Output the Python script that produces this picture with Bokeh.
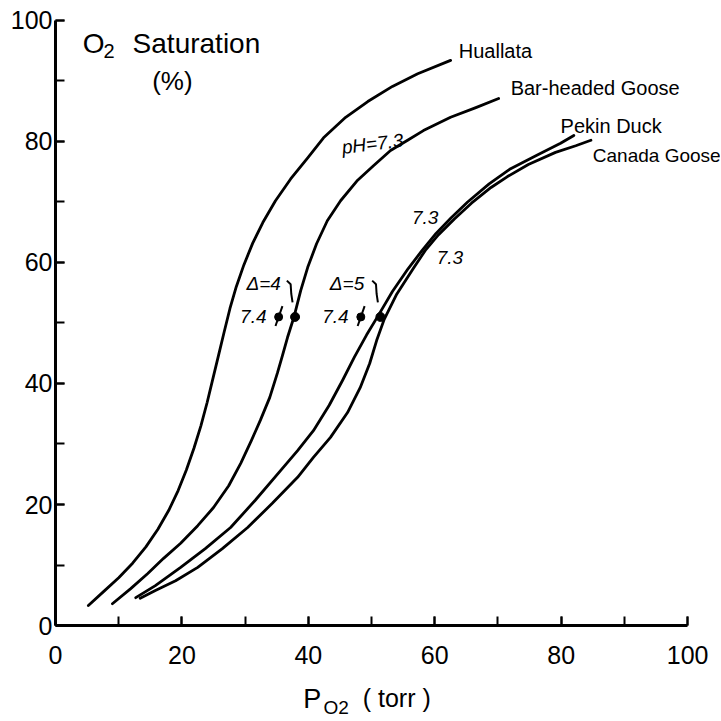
from bokeh.plotting import figure
from bokeh.models import Label, Range1d, SingleIntervalTicker
from bokeh.embed import file_html
from bokeh.resources import INLINE

# ---- data (P_O2 in torr, saturation in %) ----
huallata_x = [5.2, 7.6, 10.0, 12.2, 14.3, 16.2, 17.9, 19.4, 20.7, 21.9, 23.0, 24.0, 24.9, 25.8,
              26.7, 27.6, 28.6, 29.8, 31.2, 32.8, 34.8, 37.2, 39.9, 42.4, 45.9, 49.4, 53.3, 57.3, 62.5]
huallata_y = [3.3, 5.6, 7.9, 10.3, 13.0, 15.9, 19.0, 22.3, 25.7, 29.3, 33.0, 36.9, 40.8, 44.7,
              48.6, 52.4, 56.0, 59.6, 63.2, 66.6, 70.2, 73.8, 77.3, 80.6, 84.0, 86.6, 89.1, 91.2, 93.4]

barhead_x = [9.0, 11.9, 14.6, 17.1, 19.8, 22.5, 25.0, 27.4, 29.3, 31.0, 32.4, 33.9, 35.1, 35.9,
             36.7, 37.7, 38.8, 39.9, 41.3, 43.0, 45.1, 47.8, 50.3, 53.0, 55.7, 58.2, 62.5, 66.5, 70.1]
barhead_y = [3.6, 6.1, 8.6, 11.1, 13.6, 16.5, 19.5, 23.1, 26.8, 30.6, 33.9, 37.7, 41.7, 44.6,
             47.6, 50.9, 55.4, 59.2, 63.1, 66.9, 70.2, 73.6, 76.0, 78.5, 80.2, 81.8, 84.0, 85.6, 87.1]

pekin_x = [12.7, 15.8, 19.8, 23.7, 27.7, 31.6, 35.6, 38.3, 40.8, 43.3, 45.4, 47.3, 49.2, 51.1,
           53.3, 55.8, 58.0, 60.2, 62.6, 65.2, 68.6, 72.0, 76.3, 79.9, 82.0]
pekin_y = [4.6, 6.6, 9.6, 12.7, 16.2, 20.7, 25.6, 28.9, 32.2, 36.4, 40.5, 44.4, 48.0, 51.3,
           55.2, 59.0, 62.0, 64.8, 67.4, 70.0, 73.0, 75.5, 77.8, 79.7, 81.0]

canada_x = [13.4, 15.8, 19.0, 22.5, 26.4, 30.4, 34.3, 38.3, 40.8, 43.5, 46.2, 48.2, 49.7, 50.8,
            52.0, 54.0, 56.6, 58.5, 60.6, 63.1, 65.8, 68.9, 71.5, 74.8, 79.1, 82.3, 84.7]
canada_y = [4.5, 5.8, 7.4, 9.6, 12.7, 16.2, 20.2, 24.5, 27.8, 31.1, 35.2, 39.3, 43.3, 47.1,
            50.6, 54.8, 59.0, 62.0, 64.6, 67.2, 69.8, 72.4, 74.2, 76.2, 78.2, 79.3, 80.2]

# P50 points: pH 7.4 and pH 7.3
p50_74_x = [35.3, 48.3]
p50_74_y = [51, 51]
p50_73_x = [37.9, 51.4]
p50_73_y = [51, 51]
delta_labels = ["\u0394=4", "\u0394=5"]

species = ["Huallata", "Bar-headed Goose", "Pekin Duck", "Canada Goose"]

x_ticks_step = 20
y_ticks_step = 20

FONT = "Liberation Sans"

p = figure(frame_width=720, frame_height=720,
           x_range=Range1d(-8.7, 105.2), y_range=Range1d(-15.7, 103.3),
           output_backend="svg", toolbar_location=None,
           min_border_left=0, min_border_right=0,
           min_border_top=0, min_border_bottom=0)
p.outline_line_color = None
p.xgrid.visible = False
p.ygrid.visible = False
p.background_fill_color = "white"
p.border_fill_color = "white"

for ax, step in ((p.xaxis, x_ticks_step), (p.yaxis, y_ticks_step)):
    ax.ticker = SingleIntervalTicker(interval=step, num_minor_ticks=2)
    ax.bounds = (0, 100)
    ax.fixed_location = 0
    ax.axis_line_width = 3
    ax.axis_line_color = "black"
    ax.major_tick_in = 9
    ax.major_tick_out = 0
    ax.minor_tick_in = 9
    ax.minor_tick_out = 0
    ax.major_tick_line_width = 2
    ax.minor_tick_line_width = 2
    ax.major_tick_line_color = "black"
    ax.minor_tick_line_color = "black"
    ax.major_label_text_font = FONT
    ax.major_label_text_font_size = "25px"
    ax.major_label_text_color = "black"
p.xaxis.major_label_standoff = 20
p.yaxis.major_label_standoff = 3

# curves
for xs, ys in ((huallata_x, huallata_y), (barhead_x, barhead_y),
               (pekin_x, pekin_y), (canada_x, canada_y)):
    p.line(xs, ys, line_color="black", line_width=2.8,
           line_join="round", line_cap="round")

# P50 markers
p.scatter(p50_73_x, p50_73_y, size=9, color="black")
p.scatter(p50_74_x, p50_74_y, size=8, color="black")
p.segment(x0=[x - 0.5 for x in p50_74_x], y0=[y - 1.5 for y in p50_74_y],
          x1=[x + 0.6 for x in p50_74_x], y1=[y + 1.8 for y in p50_74_y],
          line_color="black", line_width=2)

# small braces from delta labels
for x, y in zip(p50_73_x, p50_73_y):
    p.line([x - 1.3, x - 0.7, x - 0.6, x - 0.4],
           [y + 6.0, y + 5.4, y + 3.8, y + 2.4],
           line_color="black", line_width=2)


def lab(x, y, text, size, align="left", style="normal", angle=0.0, baseline="middle"):
    p.add_layout(Label(x=x, y=y, text=text, text_font=FONT, text_font_size=size,
                       text_align=align, text_baseline=baseline,
                       text_font_style=style, text_color="black", angle=angle))


# species labels
lab(63.8, 95.0, species[0], "20px")
lab(72.0, 88.8, species[1], "20px")
lab(79.9, 82.6, species[2], "20px")
lab(85.0, 77.7, species[3], "19px")

# delta / pH annotations
lab(30.2, 56.5, delta_labels[0], "19px", style="italic")
lab(43.4, 56.5, delta_labels[1], "19px", style="italic")
lab(29.2, 51.0, "7.4", "19px", style="italic")
lab(42.2, 51.0, "7.4", "19px", style="italic")
lab(56.4, 67.5, "7.3", "19px", style="italic")
lab(60.3, 60.8, "7.3", "19px", style="italic")
lab(45.3, 79.0, "pH=7.3", "19px", style="italic", angle=0.12)

# y-axis title inside plot
lab(4.3, 96.2, "O", "28px")
lab(7.6, 95.0, "2", "20px")
lab(12.2, 96.2, "Saturation", "28px")
lab(15.3, 90.0, "(%)", "26px")

# x-axis title below
lab(39.2, -12.2, "P", "27px")
lab(42.4, -13.6, "O2", "19px")
lab(48.6, -11.9, "( torr )", "25px")

open("out.html", "w").write(file_html(p, INLINE))
